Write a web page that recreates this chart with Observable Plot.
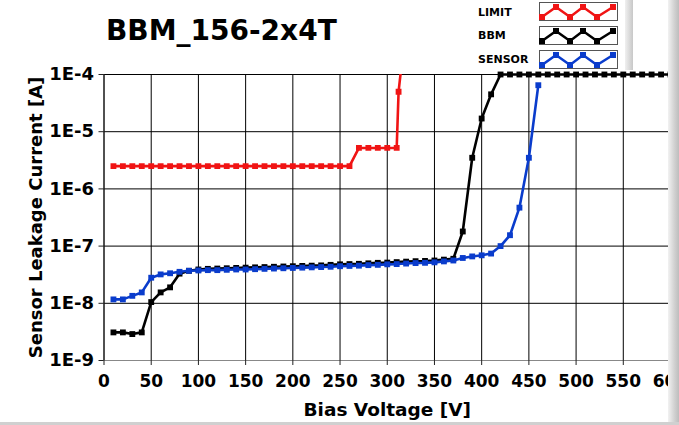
<!DOCTYPE html>
<html><head><meta charset="utf-8">
<script src="https://cdn.jsdelivr.net/npm/d3@7"></script>
<script src="https://cdn.jsdelivr.net/npm/@observablehq/plot@0.6"></script>
<style>
html,body{margin:0;padding:0;background:#fff;}
#wrap{position:relative;width:679px;height:425px;overflow:hidden;font-family:"DejaVu Sans",sans-serif;background:#fff;}
#chart{position:absolute;left:0;top:0;margin:0;}
.title{position:absolute;left:106px;top:14px;font-size:28px;font-weight:bold;color:#000;white-space:nowrap;}
.lg{position:absolute;font-size:11px;font-weight:bold;color:#000;left:478px;white-space:nowrap;}
svg.sw{position:absolute;left:539px;width:79px;height:19px;}
.bar{position:absolute;}
</style></head><body><div id="wrap"></div>
<script>
// ---- data ----
const titleText = "BBM_156-2x4T";
const xLabel = "Bias Voltage [V]";
const yLabel = "Sensor Leakage Current [A]";
const seriesNames = ["LIMIT", "BBM", "SENSOR"];
const seriesColors = ["#f01414", "#000000", "#0a3ccc"];
const xTicks = [0, 50, 100, 150, 200, 250, 300, 350, 400, 450, 500, 550, 600];
const yTicks = [1e-9, 1e-8, 1e-7, 1e-6, 1e-5, 1e-4];

const limitV = [10,20,30,40,50,60,70,80,90,100,110,120,130,140,150,160,170,180,190,200,210,220,230,240,250,260,270,280,290,300,310,312,315];
const limitI = [2.5e-6,2.5e-6,2.5e-6,2.5e-6,2.5e-6,2.5e-6,2.5e-6,2.5e-6,2.5e-6,2.5e-6,2.5e-6,2.5e-6,2.5e-6,2.5e-6,2.5e-6,2.5e-6,2.5e-6,2.5e-6,2.5e-6,2.5e-6,2.5e-6,2.5e-6,2.5e-6,2.5e-6,2.5e-6,2.5e-6,5.2e-6,5.2e-6,5.2e-6,5.2e-6,5.2e-6,5e-5,1.4e-4];

const bbmV = [10,20,30,40,50,60,70,80,90,100,110,120,130,140,150,160,170,180,190,200,210,220,230,240,250,260,270,280,290,300,310,320,330,340,350,360,370,380,390,400,410,420,430,440,450,460,470,480,490,500,510,520,530,540,550,560,570,580,590,600];
const bbmI = [3.1e-9,3.1e-9,2.9e-9,3.1e-9,1.05e-8,1.55e-8,1.9e-8,3.3e-8,3.7e-8,3.9e-8,4.0e-8,4.05e-8,4.1e-8,4.15e-8,4.2e-8,4.25e-8,4.3e-8,4.35e-8,4.4e-8,4.45e-8,4.5e-8,4.55e-8,4.6e-8,4.7e-8,4.8e-8,4.85e-8,4.9e-8,5.0e-8,5.1e-8,5.15e-8,5.25e-8,5.35e-8,5.45e-8,5.5e-8,5.6e-8,5.8e-8,6.0e-8,1.8e-7,3.5e-6,1.7e-5,4.5e-5,1e-4,1e-4,1e-4,1e-4,1e-4,1e-4,1e-4,1e-4,1e-4,1e-4,1e-4,1e-4,1e-4,1e-4,1e-4,1e-4,1e-4,1e-4,1e-4];

const sensorV = [10,20,30,40,50,60,70,80,90,100,110,120,130,140,150,160,170,180,190,200,210,220,230,240,250,260,270,280,290,300,310,320,330,340,350,360,370,380,390,400,410,420,430,440,450,460];
const sensorI = [1.17e-8,1.17e-8,1.35e-8,1.55e-8,2.8e-8,3.2e-8,3.35e-8,3.55e-8,3.7e-8,3.75e-8,3.8e-8,3.8e-8,3.85e-8,3.9e-8,3.9e-8,3.95e-8,4.0e-8,4.05e-8,4.1e-8,4.15e-8,4.2e-8,4.25e-8,4.3e-8,4.35e-8,4.45e-8,4.5e-8,4.55e-8,4.65e-8,4.7e-8,4.8e-8,4.85e-8,4.95e-8,5.05e-8,5.1e-8,5.2e-8,5.4e-8,5.6e-8,6.2e-8,6.6e-8,6.9e-8,7.4e-8,1.0e-7,1.55e-7,4.7e-7,3.5e-6,6.5e-5];

// ---- build table ----
const table = [];
limitV.forEach((v, k) => table.push({series: "LIMIT", v, i: limitI[k]}));
bbmV.forEach((v, k) => table.push({series: "BBM", v, i: bbmI[k]}));
sensorV.forEach((v, k) => table.push({series: "SENSOR", v, i: sensorI[k]}));

const colorOf = s => seriesColors[seriesNames.indexOf(s)];
const seriesMarks = [];
for (const s of seriesNames) {
  const rows = table.filter(d => d.series === s);
  const clip = s === "LIMIT";
  seriesMarks.push(Plot.line(rows, {x: "v", y: "i", stroke: colorOf(s), strokeWidth: 2.6, clip}));
  seriesMarks.push(Plot.dot(rows, {x: "v", y: "i", symbol: "square", r: 3.3, fill: colorOf(s), stroke: "none", clip}));
}

const chart = Plot.plot({
  width: 679, height: 425,
  marginLeft: 103.5, marginRight: 9, marginTop: 74, marginBottom: 65,
  style: {fontFamily: "DejaVu Sans", fontWeight: "bold", fontSize: "17px", background: "transparent", color: "#000", overflow: "visible"},
  x: {domain: [0, 600], label: null},
  y: {type: "log", domain: [1e-9, 1e-4], label: null},
  marks: [
    Plot.gridX(xTicks, {stroke: "#000", strokeOpacity: 1, strokeWidth: 1}),
    Plot.gridY(yTicks, {stroke: "#000", strokeOpacity: 1, strokeWidth: 1}),
    Plot.ruleY([1e-9], {stroke: "#888", strokeWidth: 1}),
    Plot.ruleX([0], {stroke: "#222", strokeWidth: 1}),
    Plot.axisX({ticks: xTicks, tickSize: 5, tickPadding: 9, tickFormat: d => String(d), stroke: "#222", fontSize: 17}),
    Plot.axisY({ticks: yTicks, tickSize: 5, tickPadding: 5, tickFormat: d => "1E" + Math.round(Math.log10(d)), stroke: "#222", fontSize: 18}),
    ...seriesMarks,
    Plot.text([xLabel], {frameAnchor: "bottom", lineAnchor: "middle", dy: 50, fontSize: 18.5, fontWeight: "bold", fill: "#000"}),
    Plot.text([yLabel], {frameAnchor: "left", textAnchor: "middle", lineAnchor: "middle", rotate: -90, dx: -68, fontSize: 18, fontWeight: "bold", fill: "#000"})
  ]
});

const wrap = document.getElementById("wrap");
chart.id = "chart";
wrap.appendChild(chart);

// title
const t = document.createElement("div");
t.className = "title"; t.textContent = titleText; wrap.appendChild(t);

// legend
const lgTops = [5.5, 29, 53];
const swTops = [2, 25.5, 50];
seriesNames.forEach((s, k) => {
  const l = document.createElement("div");
  l.className = "lg"; l.style.top = lgTops[k] + "px"; l.textContent = s; wrap.appendChild(l);
  const pts = [[3,15],[17,5],[31,15],[44,5],[58,15],[74,5]];
  const sw = document.createElementNS("http://www.w3.org/2000/svg", "svg");
  sw.setAttribute("class", "sw"); sw.setAttribute("width", 79); sw.setAttribute("height", 19);
  sw.style.top = swTops[k] + "px";
  let html = `<rect x="0.5" y="0.5" width="78" height="18" fill="#fff" stroke="#555"/>`;
  html += `<polyline points="${pts.map(p => p.join(",")).join(" ")}" fill="none" stroke="${seriesColors[k]}" stroke-width="2.6"/>`;
  pts.forEach(p => html += `<rect x="${p[0]-3}" y="${p[1]-3}" width="6" height="6" fill="${seriesColors[k]}"/>`);
  sw.innerHTML = html;
  wrap.appendChild(sw);
});

// decorative panel bars
function bar(l, tp, w, h, bg) {
  const b = document.createElement("div");
  b.className = "bar";
  Object.assign(b.style, {left: l + "px", top: tp + "px", width: w + "px", height: h + "px", background: bg});
  wrap.appendChild(b);
}
bar(625, 0, 8, 70, "linear-gradient(to right,#f0f0f0,#c8c8c8)");
bar(668, 0, 11, 425, "linear-gradient(to right,#f2f2f2,#d0d0d0 60%,#bdbdbd)");
bar(0, 422, 679, 3, "#d0d0d0");
</script>
</body></html>
